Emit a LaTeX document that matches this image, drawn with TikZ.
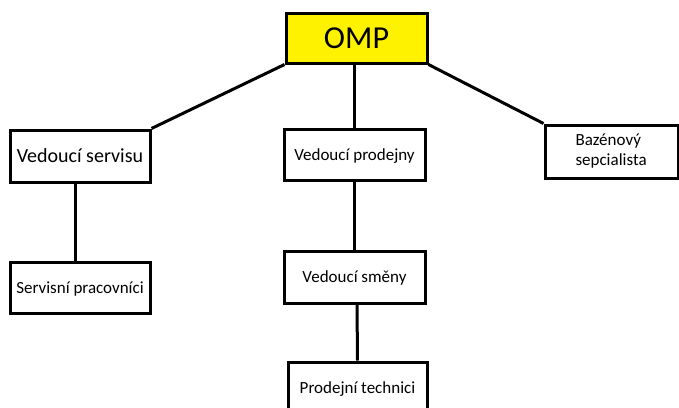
\documentclass[tikz,border=0pt]{standalone}
\usepackage{fontspec}
\setmainfont{Carlito}
\usepackage{xcolor}
\usepackage{tikz}
\definecolor{ompyellow}{RGB}{255,242,0}

\begin{document}
\begin{tikzpicture}[x=1pt,y=-1pt]
		\tikzstyle{orgbox}=[draw,line width=3pt,minimum width=141pt,minimum height=51pt,inner sep=0pt,text height=11pt,text depth=0pt,font=\fontsize{17}{20}\selectfont]
		\tikzstyle{orgline}=[line width=3pt]
		\useasboundingbox (0,0) rectangle (679,407);

		\node[orgbox,fill=ompyellow,minimum height=50pt,text height=20.5pt,font=\fontsize{32}{36}\selectfont] (omp) at (356.5,38) {OMP};
		\node[orgbox,minimum width=140pt,minimum height=52pt,text height=12.9pt,font=\fontsize{20}{24}\selectfont] (servis) at (80,156) {Vedoucí servisu};
		\node[orgbox,minimum width=133pt,minimum height=53pt,text height=,text depth=,align=left,text width=72pt] (bazen) at (611.5,151.5) {Bazénový\\sepcialista};
		\node[orgbox] (prodejna) at (354.5,154.5) {Vedoucí prodejny};

		\node[orgbox,minimum width=140pt] (servprac) at (80,287.5) {Servisní pracovníci};
		\node[orgbox,minimum height=52pt] (smena) at (354.5,277) {Vedoucí směny};
		\node[orgbox,minimum width=139pt] (technici) at (357.5,387.5) {Prodejní technici};

		\draw[orgline] (omp.south west) -- (servis.north east);
		\draw[orgline] (omp.south -| prodejna) -- (prodejna);
		\draw[orgline] (omp.south east) -- (bazen.north west);
		\draw[orgline] ([xshift=-5pt]servis.south) -- ([xshift=-5pt]servprac.north);
		\draw[orgline] (prodejna) -- (smena);
		\draw[orgline] ([xshift=2.5pt]smena.south) -- (technici.north);

	\end{tikzpicture}
\end{document}
